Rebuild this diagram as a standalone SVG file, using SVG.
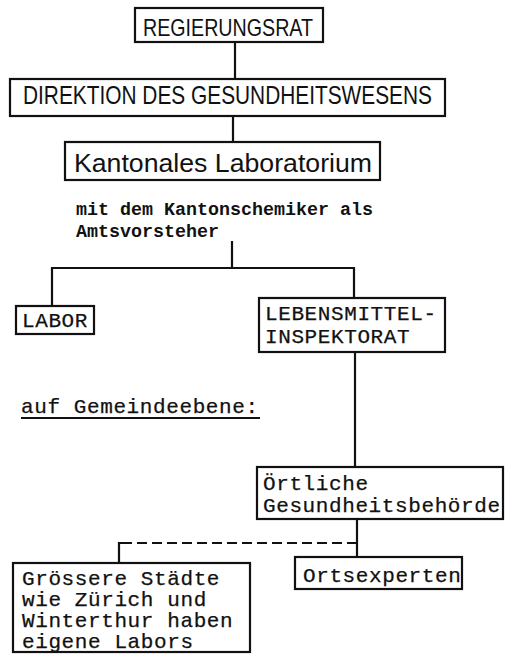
<svg xmlns="http://www.w3.org/2000/svg" width="523" height="661" viewBox="0 0 523 661">
<defs>
<style>
.box{fill:#fff;stroke:#111;stroke-width:2.2}
.ln{fill:none;stroke:#111;stroke-width:2.2}
.dash{fill:none;stroke:#111;stroke-width:2;stroke-dasharray:10,5}
.sans{font-family:"Liberation Sans","DejaVu Sans",sans-serif;fill:#111}
.mono{font-family:"Liberation Mono","DejaVu Sans Mono",monospace;font-size:21px;letter-spacing:0.6px;fill:#111;stroke:#111;stroke-width:0.25}
.monob{font-family:"Liberation Mono","DejaVu Sans Mono",monospace;font-size:18.5px;font-weight:bold;fill:#111}
</style>
</defs>
<rect width="523" height="661" fill="#fff"/>
<g id="connectors">
<line class="ln" x1="235" y1="42" x2="235" y2="79"/>
<line class="ln" x1="233" y1="116" x2="233" y2="142"/>
<polyline class="ln" points="52,306 52,268 354,268 354,298"/>
<line class="ln" x1="232" y1="241" x2="232" y2="268"/>
<line class="ln" x1="355" y1="352" x2="355" y2="467"/>
<line class="ln" x1="357" y1="519" x2="357" y2="557"/>
<line class="dash" x1="357" y1="543" x2="124" y2="543"/>
<polyline class="ln" points="125,543 119,543 119,563"/>
</g>
<g id="regierungsrat">
<rect class="box" x="135" y="8" width="188" height="34"/>
<text class="sans" x="143" y="36" font-size="24" textLength="170" lengthAdjust="spacingAndGlyphs">REGIERUNGSRAT</text>
</g>
<g id="direktion">
<rect class="box" x="10" y="79" width="435" height="37"/>
<text class="sans" x="23" y="104" font-size="25" textLength="409" lengthAdjust="spacingAndGlyphs">DIREKTION DES GESUNDHEITSWESENS</text>
</g>
<g id="kantonales">
<rect class="box" x="65" y="142" width="315" height="38"/>
<text class="sans" x="74" y="172" font-size="26" textLength="298" lengthAdjust="spacingAndGlyphs">Kantonales Laboratorium</text>
</g>
<g id="note">
<text class="monob" x="76" y="215" textLength="297" lengthAdjust="spacingAndGlyphs">mit dem Kantonschemiker als</text>
<text class="monob" x="76" y="237" textLength="143" lengthAdjust="spacingAndGlyphs">Amtsvorsteher</text>
</g>
<g id="labor">
<rect class="box" x="16" y="306" width="78" height="28"/>
<text class="mono" x="22" y="327">LABOR</text>
</g>
<g id="lebensmittel">
<rect class="box" x="259" y="298" width="186" height="54"/>
<text class="mono" x="265" y="320">LEBENSMITTEL-</text>
<text class="mono" x="265" y="343">INSPEKTORAT</text>
</g>
<g id="gemeinde-label">
<text class="mono" x="21" y="413">auf Gemeindeebene:</text>
<line class="ln" x1="21" y1="418" x2="260" y2="418"/>
</g>
<g id="oertliche">
<rect class="box" x="257" y="467" width="246" height="52"/>
<text class="mono" x="263" y="490">Örtliche</text>
<text class="mono" x="263" y="512">Gesundheitsbehörde</text>
</g>
<g id="ortsexperten">
<rect class="box" x="295" y="557" width="167" height="32"/>
<text class="mono" x="303" y="582">Ortsexperten</text>
</g>
<g id="staedte">
<rect class="box" x="13" y="563" width="237" height="89"/>
<text class="mono" x="22" y="585">Grössere Städte</text>
<text class="mono" x="22" y="606">wie Zürich und</text>
<text class="mono" x="22" y="627">Winterthur haben</text>
<text class="mono" x="22" y="648">eigene Labors</text>
</g>
</svg>
